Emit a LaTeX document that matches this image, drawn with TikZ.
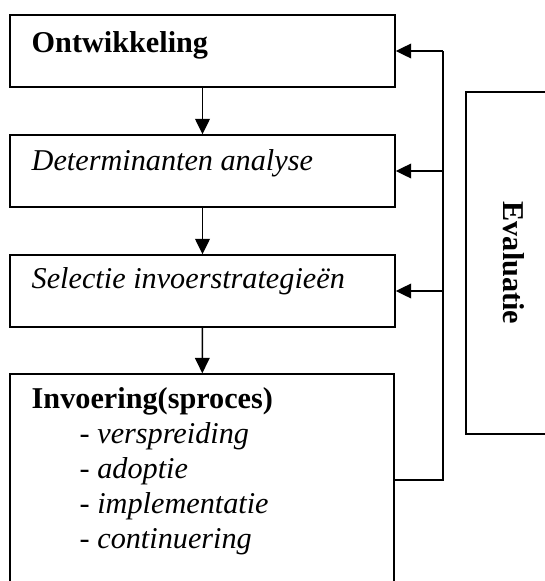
\documentclass[tikz,border=0pt]{standalone}
\usepackage{fontspec}
\setmainfont{Liberation Serif}
\usetikzlibrary{arrows.meta}

\begin{document}
\begin{tikzpicture}[x=0.025cm, y=-0.025cm, line width=1pt,
	stage/.style={draw, rectangle, inner sep=0pt, minimum width=9.625cm, minimum height=1.8cm},
	headtxt/.style={anchor=base west, inner sep=0pt, font=\fontsize{21.5}{25}\selectfont\bfseries},
	phasetxt/.style={anchor=base west, inner sep=0pt, font=\fontsize{21.5}{25}\selectfont\itshape},
	flow/.style={-{Triangle[length=11pt,width=10.5pt]}}]
	\useasboundingbox (0,0) rectangle (545,581);
	\clip (0,0) rectangle (545,581);
	% the four phases
	\node[stage] (ont) at (202.5,51) {};
	\node[stage] (det) at (202.5,171) {};
	\node[stage] (sel) at (202.5,291) {};
	\node[stage, minimum width=9.6cm, minimum height=6.15cm] (inv) at (202,497) {};
	\node[headtxt] (ontlbl) at (31,52) {Ontwikkeling};
	\node[phasetxt] (detlbl) at (31,170) {Determinanten analyse};
	\node[phasetxt] (sellbl) at (31,288) {Selectie invoerstrategieën};
	\node[headtxt] (invlbl) at (31,408) {Invoering(sproces)};
	\foreach \w [count=\i] in {verspreiding,adoptie,implementatie,continuering}
		\node[anchor=base west, inner sep=0pt, font=\fontsize{21.5}{25}\selectfont] (item\i) at (79,{443+35*(\i-1)}) {- \textit{\w}};
	\draw[flow] (ont) -- (det);
	\draw[flow] (det) -- (sel);
	\draw[flow] (sel) -- (inv);
	% evaluation and feedback
	\node[draw, rectangle, minimum width=2.4cm, minimum height=8.55cm] (eval) at (514,263) {};
	\node[rotate=-90, font=\fontsize{21.5}{25}\selectfont\bfseries] (evallbl) at (eval.center) {Evaluatie};
	\coordinate (back) at (443,480);
	\draw (inv.east |- back) -- (back) -- (back |- ont.east);
	\draw[flow] (back |- ont.east) -- (ont);
	\draw[flow] (back |- det.east) -- (det);
	\draw[flow] (back |- sel.east) -- (sel);
\end{tikzpicture}
\end{document}
